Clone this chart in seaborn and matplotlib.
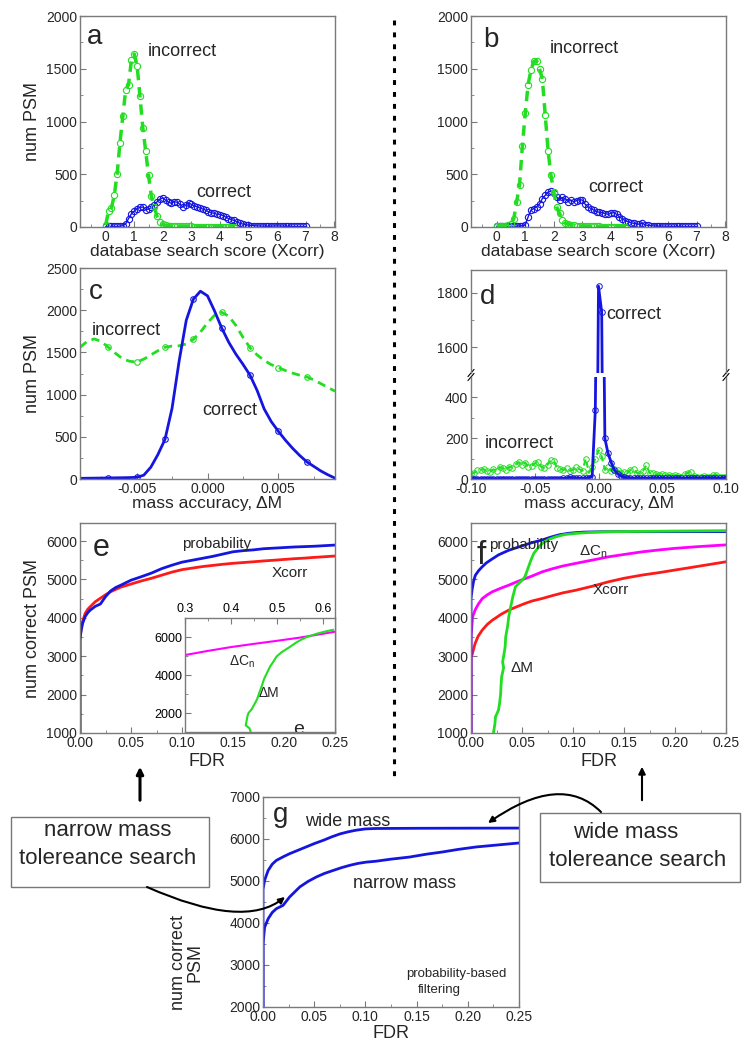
import numpy as np
import matplotlib
matplotlib.use("Agg")
import matplotlib.pyplot as plt
import seaborn as sns
from matplotlib.patches import FancyArrowPatch, Rectangle
from matplotlib.path import Path
from matplotlib.lines import Line2D
from matplotlib.ticker import MultipleLocator, FormatStrFormatter

# ============================================================================
# Data
# ============================================================================

# panels a / b : Xcorr histograms, bins of 0.1
xcorr_bins = np.linspace(0, 7, 71)
xcorr_bins_incorrect = np.linspace(0, 4.5, 46)

a_incorrect = [20, 150, 180, 300, 500, 800, 1050, 1300, 1350, 1580, 1640,
               1530, 1240, 940, 720, 490, 290, 190, 100, 50, 25,
               15, 12, 10, 8, 8, 6, 6, 5, 5, 5,
               4, 4, 4, 3, 3, 3, 3, 3, 2, 2,
               2, 2, 2, 2, 2]
a_correct = [5, 5, 5, 5, 5, 8, 12,
             30, 80, 125, 150, 175, 185, 190, 165, 170, 185,
             210, 240, 265, 275, 255, 235, 225, 240, 235, 215,
             190, 205, 228, 215, 200, 190, 180, 170, 160, 145,
             135, 130, 120, 118, 108, 95, 80, 70, 62, 50,
             35, 28, 22, 18, 14, 12, 10, 9, 8, 7,
             7, 8, 9, 10, 9, 8, 7, 6, 6, 5,
             5, 5, 5, 5]

b_incorrect = [10, 10, 10, 10, 15, 30, 80, 240, 400, 770, 1080,
               1350, 1490, 1570, 1575, 1500, 1400, 1060, 720, 490, 330,
               190, 130, 65, 35, 30, 20, 15, 12, 10, 10,
               8, 7, 6, 5, 5, 5, 4, 4, 4, 3, 3, 3, 3, 2, 2]
b_correct = [5, 5, 5, 5, 5, 5, 6, 8, 10, 12,
             20, 95, 160, 175, 190, 220, 270, 300, 330, 340,
             320, 285, 255, 280, 270, 240, 255, 240, 250, 260,
             255, 215, 190, 175, 160, 145, 140, 135, 127, 120,
             130, 136, 120, 95, 80, 60, 50, 40, 35, 30,
             25, 38, 20, 15, 12, 10, 9, 8, 8, 7,
             7, 6, 6, 5, 5, 5, 5, 5, 5, 5,
             5]

# panel c : mass accuracy, narrow tolerance search
c_mass = np.linspace(-0.009, 0.009, 37)
c_correct = [8, 9, 10, 11, 12, 14, 15, 17, 20, 45, 140, 290, 470, 840,
             1400, 1880, 2130, 2225, 2170, 1990, 1790, 1620, 1480, 1360,
             1230, 1050, 830, 680, 565, 460, 365, 280, 205, 150, 95, 50, 10]
c_incorrect = [1560, 1630, 1660, 1630, 1560, 1490, 1425, 1395, 1385, 1420,
               1470, 1520, 1560, 1575, 1578, 1600, 1655, 1740, 1850, 1940,
               1975, 1930, 1820, 1680, 1555, 1470, 1405, 1355, 1320, 1285,
               1255, 1230, 1210, 1175, 1130, 1085, 1040]

# panel d : mass accuracy, wide tolerance search (bins of 0.0025)
d_mass = np.linspace(-0.1, 0.1, 81)
d_correct = [2] * 29 + [3, 4, 8, 5, 4, 3, 3, 3, 5, 12, 336, 1825, 1730,
                        198, 125, 80, 44, 25, 15, 8, 6, 5] + [3] * 30
d_incorrect = [25, 30, 42, 45, 47, 38, 35, 47, 40, 58, 52, 45, 60, 55, 72,
               82, 70, 80, 60, 65, 76, 85, 60, 52, 70, 92, 88, 55, 50, 44,
               52, 40, 44, 58, 48, 40, 100, 30, 60, 100, 140, 110, 45, 58,
               40, 50, 44, 30, 35, 28, 45, 48, 30, 25, 40, 68, 30, 28, 22,
               20, 25, 18, 20, 16, 18, 15, 12, 22, 30, 36, 15, 12, 11, 15,
               10, 12, 18, 20, 12, 10, 11]

# panel e : narrow search, num correct PSM vs FDR
e_fdr = [0, 0, 0, 0.001, 0.0025, 0.005, 0.0075, 0.01, 0.015, 0.02, 0.025,
         0.03, 0.035, 0.04, 0.05, 0.06, 0.07, 0.08, 0.09, 0.1, 0.11, 0.12,
         0.13, 0.14, 0.15, 0.16, 0.17, 0.18, 0.19, 0.2, 0.21, 0.22, 0.23,
         0.24, 0.25]
e_probability = [1000, 3000, 3450, 3650, 3850, 4030, 4130, 4200, 4300, 4360,
                 4550, 4700, 4790, 4850, 4980, 5070, 5165, 5280, 5370, 5450,
                 5500, 5550, 5600, 5660, 5720, 5750, 5770, 5800, 5815, 5830,
                 5845, 5855, 5865, 5880, 5895]
e_xcorr = [1000, 3000, 3400, 3700, 3900, 4110, 4220, 4290, 4420, 4510, 4600,
           4680, 4740, 4800, 4880, 4960, 5030, 5110, 5190, 5255, 5295, 5335,
           5365, 5395, 5420, 5440, 5460, 5482, 5500, 5520, 5540, 5555, 5575,
           5592, 5610]
# inset of e (FDR 0.3 - 0.63)
e_dcn_fdr = [0.3, 0.35, 0.4, 0.45, 0.5, 0.55, 0.6, 0.626]
e_dcn = [5050, 5270, 5470, 5640, 5800, 5970, 6170, 6280]
e_dm_fdr = [0.443, 0.44, 0.432, 0.434, 0.436, 0.438, 0.445, 0.449, 0.454,
            0.457, 0.462, 0.468, 0.472, 0.478, 0.485, 0.492, 0.499, 0.51,
            0.528, 0.54, 0.55, 0.565, 0.586, 0.605, 0.622]
e_dm = [1000, 1200, 1350, 1600, 1860, 2000, 2200, 2380, 2600, 2750, 3100,
        3500, 3800, 4100, 4450, 4700, 4970, 5200, 5480, 5680, 5830, 6000,
        6170, 6290, 6380]

# panel f : wide search
f_prob_fdr = [0, 0, 0.001, 0.0025, 0.0043, 0.0075, 0.011, 0.015, 0.02, 0.027,
              0.037, 0.045, 0.053, 0.06, 0.07, 0.078, 0.086, 0.095, 0.103,
              0.11, 0.119, 0.13, 0.14, 0.15, 0.2, 0.25]
f_probability = [1000, 4500, 4720, 4950, 5110, 5230, 5330, 5430, 5520, 5640,
                 5760, 5830, 5900, 5960, 6030, 6100, 6160, 6200, 6220, 6232,
                 6238, 6242, 6244, 6245, 6245, 6245]
f_dcn_fdr = [0, 0, 0.0016, 0.004, 0.007, 0.011, 0.016, 0.021, 0.03, 0.037,
             0.045, 0.053, 0.06, 0.07, 0.08, 0.09, 0.103, 0.12, 0.135, 0.15,
             0.168, 0.185, 0.2, 0.22, 0.25]
f_dcn = [1000, 3500, 4030, 4200, 4350, 4500, 4600, 4680, 4780, 4850, 4940,
         5020, 5090, 5200, 5280, 5350, 5420, 5510, 5590, 5650, 5720, 5770,
         5810, 5850, 5900]
f_xcorr_fdr = [0, 0, 0.001, 0.004, 0.007, 0.011, 0.016, 0.021, 0.03, 0.037,
               0.045, 0.053, 0.06, 0.07, 0.08, 0.09, 0.103, 0.12, 0.135, 0.15,
               0.168, 0.185, 0.2, 0.22, 0.25]
f_xcorr = [1000, 3000, 3030, 3330, 3520, 3680, 3830, 3940, 4100, 4200, 4290,
           4375, 4440, 4505, 4580, 4650, 4720, 4830, 4940, 5030, 5115, 5180,
           5245, 5330, 5460]
f_dm_fdr = [0.022, 0.0235, 0.024, 0.027, 0.028, 0.029, 0.0295, 0.03, 0.032,
            0.031, 0.032, 0.0335, 0.034, 0.036, 0.037, 0.039, 0.041, 0.0436,
            0.047, 0.051, 0.053, 0.056, 0.059, 0.0616, 0.066, 0.07, 0.076,
            0.083, 0.092, 0.103, 0.12, 0.135, 0.2, 0.25]
f_dm = [1000, 1250, 1420, 1600, 1770, 2000, 2250, 2460, 2700, 2850, 3000,
        3250, 3500, 3800, 4030, 4300, 4550, 4810, 4900, 5000, 5080, 5300,
        5520, 5680, 5830, 5940, 6040, 6110, 6170, 6200, 6230, 6243, 6260,
        6270]

# panel g : probability based filtering, wide vs narrow
g_wide_fdr = [0, 0, 0.0016, 0.005, 0.009, 0.013, 0.02, 0.026, 0.034, 0.042,
              0.05, 0.059, 0.067, 0.075, 0.083, 0.091, 0.1, 0.11, 0.15, 0.2,
              0.25]
g_wide = [2000, 4800, 5020, 5250, 5400, 5490, 5580, 5650, 5730, 5810, 5890,
          5970, 6050, 6120, 6170, 6210, 6240, 6250, 6255, 6258, 6260]
g_narrow_fdr = [0, 0, 0.0016, 0.005, 0.009, 0.013, 0.0196, 0.026, 0.031,
                0.036, 0.044, 0.052, 0.06, 0.069, 0.077, 0.085, 0.093, 0.101,
                0.11, 0.125, 0.143, 0.16, 0.175, 0.19, 0.208, 0.23, 0.25]
g_narrow = [2000, 3500, 3900, 4100, 4250, 4340, 4420, 4620, 4740, 4860, 4990,
            5095, 5180, 5255, 5320, 5375, 5420, 5450, 5470, 5520, 5570, 5640,
            5690, 5750, 5810, 5860, 5905]

# ============================================================================
# Style
# ============================================================================
sns.set_style("ticks")
plt.rcParams["font.family"] = ["Liberation Sans", "DejaVu Sans"]
plt.rcParams["mathtext.default"] = "regular"
plt.rcParams["axes.unicode_minus"] = False

GREEN = "#22dd22"
BLUE = "#1515e0"
RED = "#ff1a1a"
MAGENTA = "#ff00ff"
SPINE = "#7a7a7a"

W, H = 752, 1050
fig = plt.figure(figsize=(W / 100, H / 100), dpi=100)


def add_ax(l, t, r, b):
    # axes from pixel box (left, top, right, bottom)
    return fig.add_axes([l / W, 1 - b / H, (r - l) / W, (b - t) / H])


def style_ax(ax, labelsize=10):
    for s in ax.spines.values():
        s.set_color(SPINE)
        s.set_linewidth(1)
    ax.tick_params(which="both", direction="in", color=SPINE,
                   labelsize=labelsize, pad=2, top=False, right=False)
    ax.tick_params(which="major", length=4)
    ax.tick_params(which="minor", length=2)
    ax.set_xlabel("")
    ax.set_ylabel("")


def line(ax, x, y, color, lw=2, ls="-", **kw):
    sns.lineplot(x=x, y=y, ax=ax, color=color, lw=lw, linestyle=ls,
                 estimator=None, sort=False, legend=False, **kw)


def circles(color, ms=4.5, mew=0.8):
    return dict(marker="o", markersize=ms, markerfacecolor="none",
                markeredgecolor=color, markeredgewidth=mew)


def fpx(x, y):
    return (x / W, 1 - y / H)


# ============================================================================
# Panels a and b
# ============================================================================
for (l, r), inc, cor, letter, pos in [
        ((80, 335), a_incorrect, a_correct, "a",
         [(-0.65, 1800), (1.47, 1660), (3.16, 330)]),
        ((471, 726), b_incorrect, b_correct, "b",
         [(-0.49, 1770), (1.86, 1690), (3.19, 370)])]:
    ax = add_ax(l, 16, r, 227)
    line(ax, xcorr_bins, cor, BLUE, lw=1, **circles(BLUE))
    line(ax, xcorr_bins_incorrect, inc, GREEN, lw=2.5, ls=(0, (3, 2)),
         **circles(GREEN))
    style_ax(ax)
    ax.set_xlim(-0.9, 8.03)
    ax.set_ylim(0, 2000)
    ax.xaxis.set_major_locator(MultipleLocator(1))
    ax.xaxis.set_minor_locator(MultipleLocator(0.5))
    ax.yaxis.set_major_locator(MultipleLocator(500))
    ax.yaxis.set_minor_locator(MultipleLocator(250))
    ax.set_xlabel("database search score (Xcorr)", fontsize=12.5, labelpad=0)
    if letter == "a":
        ax.set_ylabel("num PSM", fontsize=13, labelpad=4)
    ax.text(*pos[0], letter, fontsize=20, va="center")
    ax.text(*pos[1], "incorrect", fontsize=13, va="center")
    ax.text(*pos[2], "correct", fontsize=13, va="center")

# ============================================================================
# Panel c
# ============================================================================
ax = add_ax(80, 268, 335, 479)
line(ax, c_mass, c_incorrect, GREEN, lw=2, ls=(0, (3, 2)),
     markevery=slice(4, 33, 4), **circles(GREEN, ms=4))
line(ax, c_mass, c_correct, BLUE, lw=2,
     markevery=slice(4, 33, 4), **circles(BLUE, ms=4))
style_ax(ax)
ax.set_xlim(-0.009, 0.009)
ax.set_ylim(0, 2500)
ax.set_xticks([-0.005, 0, 0.005])
ax.xaxis.set_major_formatter(FormatStrFormatter("%.3f"))
ax.xaxis.set_minor_locator(MultipleLocator(0.0025))
ax.yaxis.set_major_locator(MultipleLocator(500))
ax.yaxis.set_minor_locator(MultipleLocator(250))
ax.set_xlabel("mass accuracy, ΔM", fontsize=12.5, labelpad=0)
ax.set_ylabel("num PSM", fontsize=13, labelpad=4)
ax.text(-0.0084, 2215, "c", fontsize=20, va="center")
ax.text(-0.0082, 1754, "incorrect", fontsize=13, va="center")
ax.text(-0.00035, 806, "correct", fontsize=13, va="center")

# ============================================================================
# Panel d (broken y axis)
# ============================================================================
d_hi = add_ax(471, 270, 726, 373)
d_lo = add_ax(471, 377, 726, 479)
for ax in (d_hi, d_lo):
    line(ax, d_mass, d_incorrect, GREEN, lw=1.5, ls=(0, (3, 2)),
         **circles(GREEN, ms=4, mew=0.7))
    line(ax, d_mass, d_correct, BLUE, lw=2, **circles(BLUE, ms=4, mew=0.7))
    style_ax(ax)
    ax.set_xlim(-0.1, 0.1)
    ax.xaxis.set_major_locator(MultipleLocator(0.05))
    ax.xaxis.set_minor_locator(MultipleLocator(0.025))
    ax.yaxis.set_minor_locator(MultipleLocator(100))
d_hi.set_ylim(1504, 1885)
d_hi.set_yticks([1600, 1800])
d_hi.spines["bottom"].set_visible(False)
d_hi.tick_params(axis="x", which="both", bottom=False, labelbottom=False)
d_lo.set_ylim(0, 498)
d_lo.set_yticks([0, 200, 400])
d_lo.spines["top"].set_visible(False)
d_lo.xaxis.set_major_formatter(FormatStrFormatter("%.2f"))
d_lo.set_xlabel("mass accuracy, ΔM", fontsize=12.5, labelpad=0)
# break marks
for xa in (0, 1):
    for ax, ya in ((d_hi, 0), (d_lo, 1)):
        ax.plot([xa - 0.012, xa + 0.012], [ya - 0.035, ya + 0.035],
                transform=ax.transAxes, color="k", lw=0.8, clip_on=False)
d_hi.text(-0.0933, 1785, "d", fontsize=20, va="center")
d_hi.text(0.0057, 1722, "correct", fontsize=13, va="center")
d_lo.text(-0.0894, 171, "incorrect", fontsize=13, va="center")

# ============================================================================
# Panel e (with inset)
# ============================================================================
ax = add_ax(80, 523, 335, 733)
line(ax, e_fdr, e_xcorr, RED, lw=2)
line(ax, e_fdr, e_probability, BLUE, lw=2)
style_ax(ax)
ax.set_xlim(0, 0.25)
ax.set_ylim(1000, 6470)
ax.xaxis.set_major_locator(MultipleLocator(0.05))
ax.xaxis.set_minor_locator(MultipleLocator(0.025))
ax.xaxis.set_major_formatter(FormatStrFormatter("%.2f"))
ax.yaxis.set_major_locator(MultipleLocator(1000))
ax.yaxis.set_minor_locator(MultipleLocator(500))
ax.set_xlabel("FDR", fontsize=13, labelpad=2)
ax.set_ylabel("num correct PSM", fontsize=13, labelpad=4)
ax.text(0.0127, 5819, "e", fontsize=22, va="center")
ax.text(0.1, 5924, "probability", fontsize=11, va="center")
ax.text(0.188, 5164, "Xcorr", fontsize=11, va="center")

ax_in = add_ax(185, 618, 335, 732)
line(ax_in, e_dcn_fdr, e_dcn, MAGENTA, lw=1.5)
line(ax_in, e_dm_fdr, e_dm, GREEN, lw=1.5)
style_ax(ax_in, labelsize=9)
ax_in.xaxis.tick_top()
ax_in.tick_params(which="both", direction="in", top=True, bottom=False,
                  labeltop=True, labelbottom=False, colors=SPINE,
                  labelcolor="k")
ax_in.set_xlim(0.3, 0.626)
ax_in.set_ylim(1000, 7000)
ax_in.xaxis.set_major_locator(MultipleLocator(0.1))
ax_in.xaxis.set_minor_locator(MultipleLocator(0.05))
ax_in.xaxis.set_major_formatter(FormatStrFormatter("%.1f"))
ax_in.set_yticks([2000, 4000, 6000])
ax_in.yaxis.set_minor_locator(MultipleLocator(1000))
ax_in.text(0.395, 4684, "ΔC$_\\mathregular{n}$", fontsize=10, va="center")
ax_in.text(0.46, 3053, "ΔM", fontsize=10, va="center")
ax_in.text(0.535, 900, "e", fontsize=14, va="baseline", clip_on=True)

# ============================================================================
# Panel f
# ============================================================================
ax = add_ax(471, 523, 726, 733)
line(ax, f_xcorr_fdr, f_xcorr, RED, lw=2)
line(ax, f_dcn_fdr, f_dcn, MAGENTA, lw=2)
line(ax, f_prob_fdr, f_probability, BLUE, lw=2)
line(ax, f_dm_fdr, f_dm, GREEN, lw=2)
style_ax(ax)
ax.set_xlim(0, 0.25)
ax.set_ylim(1000, 6470)
ax.xaxis.set_major_locator(MultipleLocator(0.05))
ax.xaxis.set_minor_locator(MultipleLocator(0.025))
ax.xaxis.set_major_formatter(FormatStrFormatter("%.2f"))
ax.yaxis.set_major_locator(MultipleLocator(1000))
ax.yaxis.set_minor_locator(MultipleLocator(500))
ax.set_xlabel("FDR", fontsize=13, labelpad=2)
ax.text(0.005, 5636, "f", fontsize=24, va="center")
ax.text(0.0176, 5900, "probability", fontsize=11, va="center")
ax.text(0.106, 5714, "ΔC$_\\mathregular{n}$", fontsize=11, va="center")
ax.text(0.119, 4719, "Xcorr", fontsize=11, va="center")
ax.text(0.039, 2702, "ΔM", fontsize=11, va="center")

# ============================================================================
# Panel g
# ============================================================================
ax = add_ax(263, 797, 519, 1007)
line(ax, g_wide_fdr, g_wide, BLUE, lw=2)
line(ax, g_narrow_fdr, g_narrow, BLUE, lw=2)
style_ax(ax)
ax.set_xlim(0, 0.25)
ax.set_ylim(2000, 7000)
ax.xaxis.set_major_locator(MultipleLocator(0.05))
ax.xaxis.set_minor_locator(MultipleLocator(0.025))
ax.xaxis.set_major_formatter(FormatStrFormatter("%.2f"))
ax.yaxis.set_major_locator(MultipleLocator(1000))
ax.yaxis.set_minor_locator(MultipleLocator(500))
ax.set_xlabel("FDR", fontsize=13, labelpad=1)
ax.set_ylabel("num correct\nPSM", fontsize=13, linespacing=0.95)
# the label sits low, below the narrow-mass box
ax.yaxis.set_label_coords(-0.234, 0.21)
ax.text(0.0098, 6571, "g", fontsize=20, va="center")
ax.text(0.041, 6405, "wide mass", fontsize=13, va="center")
ax.text(0.088, 4952, "narrow mass", fontsize=13, va="center")
ax.text(0.14, 2786, "probability-based", fontsize=9.5, va="center")
ax.text(0.172, 2405, "filtering", fontsize=9.5, va="center", ha="center")

# ============================================================================
# Boxes, arrows and divider
# ============================================================================
for (l, t, r, b) in [(11, 817, 209, 887), (540, 813, 740, 882)]:
    fig.add_artist(Rectangle(fpx(l, b), (r - l) / W, (b - t) / H,
                             transform=fig.transFigure, fill=False,
                             ec="#777777", lw=1))
fig.text(*fpx(108, 830), "narrow mass", fontsize=16, ha="center", va="center")
fig.text(*fpx(108, 858), "tolereance search", fontsize=16, ha="center",
         va="center")
fig.text(*fpx(626, 832), "wide mass", fontsize=16, ha="center", va="center")
fig.text(*fpx(638, 860), "tolereance search", fontsize=16, ha="center",
         va="center")

# straight arrows pointing up to panels e and f
for x, lw in ((140, 2.2), (642, 1.5)):
    fig.add_artist(FancyArrowPatch(fpx(x, 803), fpx(x, 764),
                                   transform=fig.transFigure,
                                   arrowstyle="-|>", mutation_scale=10,
                                   color="k", lw=lw))

# curved arrows from the boxes to the curves of panel g
for p0, c, p2 in [((147, 887), (244, 930), (285, 897)),
                  ((601, 812), (561, 772), (488, 823))]:
    path = Path([fpx(*p0), fpx(*c), fpx(*p2)],
                [Path.MOVETO, Path.CURVE3, Path.CURVE3])
    fig.add_artist(FancyArrowPatch(path=path, transform=fig.transFigure,
                                   arrowstyle="-|>", mutation_scale=9,
                                   color="k", lw=1.5))

# dashed divider between the two columns
fig.add_artist(Line2D([394 / W, 394 / W], [1 - 20 / H, 1 - 780 / H],
                      transform=fig.transFigure, color="k", lw=2.2,
                      linestyle=(0, (1.6, 2.3))))

fig.savefig("out.png", dpi=100)
